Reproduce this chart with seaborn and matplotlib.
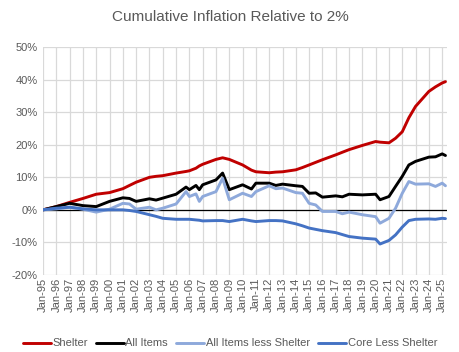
import pandas as pd
import seaborn as sns
import matplotlib.pyplot as plt
import matplotlib.dates as mdates
from matplotlib.ticker import FuncFormatter

dates = ["1995-01", "1996-01", "1997-01", "1998-01", "1999-01", "2000-01", "2001-01", "2001-07",
         "2002-01", "2003-01", "2003-07", "2004-01", "2005-01", "2005-10", "2006-01", "2006-07",
         "2006-10", "2007-01", "2008-01", "2008-07", "2009-01", "2010-01", "2010-09", "2011-01",
         "2012-01", "2012-07", "2013-01", "2014-01", "2014-07", "2015-01", "2015-07", "2016-01",
         "2017-01", "2017-07", "2018-01", "2019-01", "2020-01", "2020-05", "2021-01", "2021-07",
         "2022-01", "2022-07", "2023-01", "2024-01", "2024-07", "2025-01", "2025-04"]

shelter = [0, 1.0, 2.3, 3.5, 4.8, 5.3, 6.5, 7.5,
           8.5, 10.0, 10.3, 10.5, 11.3, 11.8, 12.0, 12.8,
           13.5, 14.0, 15.5, 16.0, 15.5, 13.8, 12.2, 11.7,
           11.4, 11.6, 11.7, 12.3, 13.0, 13.8, 14.6, 15.4,
           16.9, 17.7, 18.5, 19.8, 21.0, 20.8, 20.6, 22.0,
           24.0, 28.3, 31.8, 36.4, 37.8, 39.0, 39.4]

all_items = [0, 1.0, 2.0, 1.3, 1.0, 2.6, 3.7, 3.5,
             2.6, 3.4, 3.0, 3.6, 4.8, 7.0, 6.2, 7.5,
             6.2, 7.7, 9.2, 11.3, 6.2, 7.7, 6.4, 8.2,
             8.2, 7.5, 7.9, 7.4, 7.2, 5.1, 5.2, 3.9,
             4.3, 4.0, 4.8, 4.6, 4.8, 3.1, 4.1, 7.2,
             10.3, 13.8, 14.9, 16.2, 16.3, 17.2, 16.7]

items_less_shelter = [0, 0.3, 0.8, 0.2, -0.7, 0.2, 2.0, 1.8,
                      0.2, 0.8, 0.0, 0.5, 1.8, 5.6, 4.1, 4.9,
                      2.6, 4.1, 5.6, 9.7, 3.1, 5.1, 4.1, 5.6,
                      7.4, 6.5, 6.7, 5.3, 5.1, 2.0, 1.5, -0.5,
                      -0.5, -1.2, -0.7, -1.5, -2.1, -4.1, -2.6, 0.5,
                      5.1, 8.7, 7.9, 8.0, 7.2, 8.2, 7.4]

core_less_shelter = [0, 0.5, 0.8, 0.3, 0.0, 0.0, 0.0, -0.2,
                     -0.5, -1.5, -2.0, -2.6, -2.9, -2.9, -2.9, -3.1,
                     -3.2, -3.4, -3.3, -3.3, -3.6, -2.9, -3.4, -3.6,
                     -3.3, -3.3, -3.4, -4.3, -4.9, -5.6, -6.0, -6.4,
                     -7.0, -7.6, -8.2, -8.7, -9.0, -10.5, -9.4, -7.7,
                     -5.3, -3.3, -2.9, -2.8, -2.9, -2.6, -2.7]

names = ["Shelter", "All Items", "All Items less Shelter", "Core Less Shelter"]
colors = ["#C00000", "#000000", "#8EA9DB", "#4472C4"]

df = pd.DataFrame({"date": pd.to_datetime(dates),
                   "Shelter": shelter,
                   "All Items": all_items,
                   "All Items less Shelter": items_less_shelter,
                   "Core Less Shelter": core_less_shelter})
long_df = df.melt(id_vars="date", var_name="series", value_name="value")

sns.set_style("white")
plt.rcParams["font.family"] = ["Liberation Sans", "DejaVu Sans"]

fig = plt.figure(figsize=(4.6, 3.52), dpi=100)
ax = fig.add_axes([0.0935, 0.219, 0.878, 0.647])

sns.lineplot(data=long_df, x="date", y="value", hue="series", hue_order=names,
             palette=colors, linewidth=2.1, ax=ax)

ax.set_ylim(-20, 50)
ax.set_yticks(range(-20, 51, 10))
ax.yaxis.set_major_formatter(FuncFormatter(lambda v, p: f"{v:.0f}%"))
ax.set_xlim(pd.Timestamp("1995-01-01"), pd.Timestamp("2025-05-10"))
ax.xaxis.set_major_locator(mdates.YearLocator(1, month=1, day=1))
ax.xaxis.set_major_formatter(mdates.DateFormatter("%b-%y"))
ax.grid(True, color="#D9D9D9", linewidth=0.9)
ax.set_axisbelow(True)
ax.axhline(0, color="black", linewidth=0.9, zorder=1.5)
for s in ax.spines.values():
    s.set_visible(False)
ax.tick_params(axis="x", rotation=90, labelsize=8, colors="#595959", length=0, pad=2)
ax.tick_params(axis="y", labelsize=8, colors="#595959", length=0, pad=4)
ax.set_xlabel("")
ax.set_ylabel("")

fig.text(0.5, 1 - 17 / 352, "Cumulative Inflation Relative to 2%", fontsize=11,
         color="#595959", ha="center", va="center")

ax.legend(loc="upper center", bbox_to_anchor=(0.463, -0.235), ncol=4, frameon=False,
          fontsize=8, handlelength=2.5, handletextpad=0.15, columnspacing=0.75,
          labelcolor="#595959")

fig.savefig("out.png", dpi=100)
